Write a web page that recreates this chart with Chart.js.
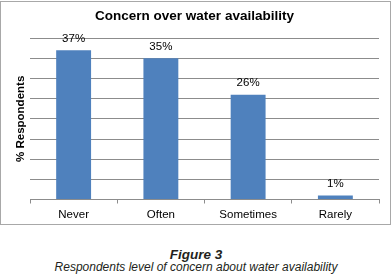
<!DOCTYPE html>
<html>
<head>
<meta charset="utf-8">
<script src="https://cdn.jsdelivr.net/npm/chart.js@4/dist/chart.umd.min.js"></script>
<style>
  html, body { margin: 0; padding: 0; background: #fff; }
  body { width: 392px; height: 277px; position: relative; overflow: hidden; }
  #frame { position: absolute; left: 0; top: 1px; width: 389px; height: 222px; border: 1px solid #a8a8a8; }
  #chart { position: absolute; left: 0; top: 0; }
  .cap { position: absolute; left: 0; width: 392px; text-align: center; font-family: "Liberation Sans", Arial, sans-serif; color: #231f20; font-style: italic; }
  #fig { top: 247px; font-size: 13.5px; font-weight: bold; }
  #desc { top: 260px; font-size: 12px; }
</style>
</head>
<body>
<div id="frame"></div>
<canvas id="chart" width="392" height="226"></canvas>
<div class="cap" id="fig">Figure 3</div>
<div class="cap" id="desc">Respondents level of concern about water availability</div>
<script>
// data
const categories = ["Never", "Often", "Sometimes", "Rarely"];
const percentValues = [37, 35, 26, 1];
const valueLabels = ["37%", "35%", "26%", "1%"];

// label di atas batang
const barLabels = {
  id: "barLabels",
  afterDatasetsDraw(chart) {
    const ctx = chart.ctx;
    const meta = chart.getDatasetMeta(0);
    ctx.save();
    ctx.font = "11.5px 'Liberation Sans', Arial, sans-serif";
    ctx.fillStyle = "#000";
    ctx.textAlign = "center";
    ctx.textBaseline = "middle";
    meta.data.forEach((bar, i) => {
      ctx.fillText(valueLabels[i], bar.x, bar.y - 11.5);
    });
    ctx.restore();
  },
};

const ctx = document.getElementById("chart").getContext("2d");
new Chart(ctx, {
  type: "bar",
  data: {
    labels: categories,
    datasets: [
      {
        data: percentValues,
        backgroundColor: "#4f81bd",
        borderWidth: 0,
        categoryPercentage: 1,
        barPercentage: 0.4,
      },
    ],
  },
  options: {
    responsive: false,
    animation: false,
    layout: { padding: { left: 10, right: 13, top: 0, bottom: 0 } },
    plugins: {
      legend: { display: false },
      tooltip: { enabled: false },
      title: {
        display: true,
        text: "Concern over water availability",
        color: "#000",
        font: { family: "'Liberation Sans', Arial, sans-serif", size: 13.5, weight: "bold" },
        padding: { top: 8, bottom: 14 },
      },
    },
    scales: {
      x: {
        grid: {
          drawOnChartArea: false,
          drawTicks: true,
          tickLength: 4,
          color: "#8c8c8c",
        },
        border: { color: "#8c8c8c" },
        ticks: {
          color: "#000",
          padding: 4,
          font: { family: "'Liberation Sans', Arial, sans-serif", size: 11.5 },
        },
        afterFit(scale) {
          scale.height = 26.5;
        },
      },
      y: {
        min: 0,
        max: 40,
        ticks: { display: false, stepSize: 5 },
        grid: { color: "#8c8c8c", drawTicks: false },
        border: { display: false },
        title: {
          display: true,
          text: "% Respondents",
          color: "#000",
          font: { family: "'Liberation Sans', Arial, sans-serif", size: 11.5, weight: "bold" },
        },
        afterFit(scale) {
          scale.width = 20;
        },
      },
    },
  },
  plugins: [barLabels],
});
</script>
</body>
</html>
